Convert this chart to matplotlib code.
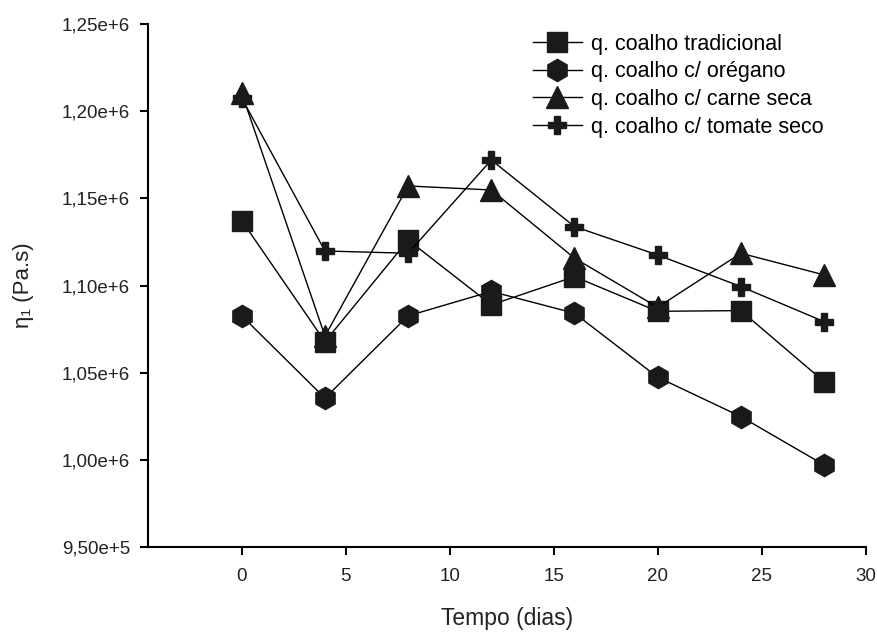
import matplotlib
matplotlib.use("Agg")
import matplotlib.pyplot as plt
from matplotlib.ticker import FuncFormatter

plt.rcParams['font.family'] = ['Liberation Sans', 'DejaVu Sans']

# storage time (days) and apparent viscosity for each cheese
dias = [0, 4, 8, 12, 16, 20, 24, 28]
tradicional = [1.1372e6, 1.0678e6, 1.1261e6, 1.0889e6, 1.1051e6, 1.0852e6, 1.0856e6, 1.0449e6]
oregano = [1.0826e6, 1.0354e6, 1.0826e6, 1.0966e6, 1.0841e6, 1.0474e6, 1.0248e6, 0.9971e6]
carne_seca = [1.2103e6, 1.0710e6, 1.1571e6, 1.1548e6, 1.1157e6, 1.0875e6, 1.1185e6, 1.1061e6]
tomate_seco = [1.2074e6, 1.1198e6, 1.1185e6, 1.1720e6, 1.1338e6, 1.1175e6, 1.0994e6, 1.0793e6]

rotulos = ["q. coalho tradicional", "q. coalho c/ orégano",
           "q. coalho c/ carne seca", "q. coalho c/ tomate seco"]


def fmt_y(v, pos):
    if v == 0:
        return "0"
    exp = 0
    m = v
    while abs(m) >= 10:
        m /= 10
        exp += 1
    while abs(m) < 1:
        m *= 10
        exp -= 1
    return f"{m:.2f}".replace(".", ",") + f"e+{exp}"


fig = plt.figure(figsize=(8.77, 6.32), dpi=100)
ax = fig.add_axes([0.169, 0.1345, 0.818, 0.8275])

cor = "#1a1a1a"
series = [(tradicional, "s", 14), (oregano, "h", 16),
          (carne_seca, "^", 16), (tomate_seco, "P", 13)]
for (vals, mk, ms), nome in zip(series, rotulos):
    ax.plot(dias, vals, color="black", lw=1.0, marker=mk, ms=ms,
            mfc=cor, mec=cor, label=nome)

ax.set_xlim(-4.5, 30)
ax.set_ylim(9.5e5, 1.25e6)
ax.set_xticks([0, 5, 10, 15, 20, 25, 30])
ax.set_yticks([9.5e5, 1.0e6, 1.05e6, 1.1e6, 1.15e6, 1.2e6, 1.25e6])
ax.yaxis.set_major_formatter(FuncFormatter(fmt_y))

for s in ["top", "right"]:
    ax.spines[s].set_visible(False)
for s in ["left", "bottom"]:
    ax.spines[s].set_linewidth(1.5)
ax.tick_params(direction="out", length=6, width=1.5, labelsize=13.5,
               colors="black", labelcolor="#222222")
ax.tick_params(axis="x", pad=9)
ax.tick_params(axis="y", pad=7)

ax.set_xlabel("Tempo (dias)", fontsize=16.5, labelpad=16, color="#222222")
ax.set_ylabel("η₁ (Pa.s)", fontsize=16, labelpad=20, color="#222222")

ax.legend(loc="upper left", bbox_to_anchor=(0.524, 0.998), frameon=False,
          fontsize=15.5, handlelength=2.3, handletextpad=0.4,
          labelspacing=0.31, borderaxespad=0.0)

fig.savefig("out.png", dpi=100)
